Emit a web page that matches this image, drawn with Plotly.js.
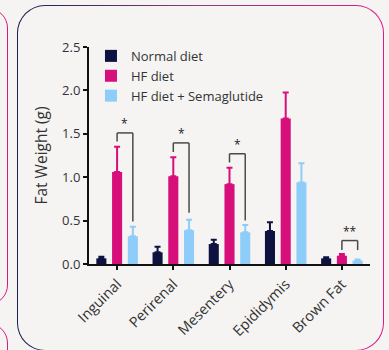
<!DOCTYPE html>
<html>
<head>
<meta charset="utf-8">
<script src="https://cdn.plot.ly/plotly-3.0.1.min.js"></script>
<style>
  html, body { margin:0; padding:0; background:#f5f4f2; width:389px; height:350px; overflow:hidden; }
  .panel { position:absolute; box-sizing:border-box; }
  #nb1 { left:-100px; top:8px; width:107.5px; height:297px; border:1.5px solid #d8197f; border-radius:20px; }
  #nb2 { left:-100px; top:323px; width:107.5px; height:120px; border:1.5px solid #d8197f; border-radius:20px; }
  #main { left:17px; top:5px; width:366.5px; height:346px; border-radius:28px; border:1.5px solid transparent;
          background: linear-gradient(#f5f4f2,#f5f4f2) padding-box, linear-gradient(to right, #1b1e4d, #8a3f78 50%, #de1a85) border-box; }
  #chart { position:absolute; left:0; top:0; width:389px; height:350px; }
</style>
</head>
<body>
<div class="panel" id="nb1"></div>
<div class="panel" id="nb2"></div>
<div class="panel" id="main"></div>
<div id="chart"></div>
<script>
// ---- data ----
const categories = ['Inguinal', 'Perirenal', 'Mesentery', 'Epididymis', 'Brown Fat'];
const seriesNames = ['Normal diet', 'HF diet', 'HF diet + Semaglutide'];
const normalDiet = [0.065, 0.135, 0.23, 0.38, 0.065];
const normalDietErr = [0.018, 0.065, 0.05, 0.10, 0.012];
const hfDiet = [1.06, 1.01, 0.92, 1.675, 0.095];
const hfDietErr = [0.29, 0.22, 0.19, 0.30, 0.02];
const hfSema = [0.32, 0.39, 0.365, 0.94, 0.04];
const hfSemaErr = [0.11, 0.12, 0.085, 0.22, 0.012];
// significance brackets (HF diet vs HF diet + Semaglutide)
const bracketCategories = ['Inguinal', 'Perirenal', 'Mesentery', 'Brown Fat'];
const bracketTop = [1.51, 1.395, 1.27, 0.27];
const bracketLeftEnd = [1.41, 1.29, 1.17, 0.16];
const bracketRightEnd = [0.49, 0.59, 0.50, 0.16];
const bracketLabels = ['*', '*', '*', '**'];
const yTickVals = [0, 0.5, 1.0, 1.5, 2.0, 2.5];

// ---- styles ----
const colors = ['#0e1240', '#d60f7b', '#8ecdfa'];
const FONT = 'Open Sans, sans-serif';
const BARGAP = 0.16;
const slot = (1 - BARGAP) / 3;
const xIdx = categories.map((c, i) => i);

const values = [normalDiet, hfDiet, hfSema];
const errs = [normalDietErr, hfDietErr, hfSemaErr];
const traces = values.map((v, k) => ({
  type: 'bar',
  name: seriesNames[k],
  x: xIdx,
  y: v,
  marker: { color: colors[k], line: { width: 0 } },
  error_y: { type: 'data', symmetric: false, array: errs[k], arrayminus: v.map(() => 0),
             color: colors[k], thickness: 2, width: 3 },
  hoverinfo: 'skip'
}));

const shapes = [];
const annotations = [];
bracketCategories.forEach((c, j) => {
  const i = categories.indexOf(c);
  const xl = i;            // HF diet bar centre
  const xr = i + slot;     // HF + Semaglutide bar centre
  const line = { color: '#4a4a4a', width: 1.5 };
  shapes.push({ type: 'line', xref: 'x', yref: 'y', x0: xl, x1: xl, y0: bracketLeftEnd[j], y1: bracketTop[j], line });
  shapes.push({ type: 'line', xref: 'x', yref: 'y', x0: xl, x1: xr, y0: bracketTop[j], y1: bracketTop[j], line });
  shapes.push({ type: 'line', xref: 'x', yref: 'y', x0: xr, x1: xr, y0: bracketTop[j], y1: bracketRightEnd[j], line });
  annotations.push({ xref: 'x', yref: 'y', x: (xl + xr) / 2, y: bracketTop[j], text: bracketLabels[j],
    showarrow: false, yanchor: 'bottom', xanchor: 'center', yshift: -1,
    font: { family: FONT, size: 12, color: '#222' } });
});

const layout = {
  width: 389, height: 350,
  margin: { l: 89, r: 19, t: 47, b: 86, pad: 0 },
  paper_bgcolor: 'rgba(0,0,0,0)',
  plot_bgcolor: 'rgba(0,0,0,0)',
  barmode: 'group',
  bargap: BARGAP,
  bargroupgap: 0.36,
  showlegend: true,
  legend: { x: 0.007, y: 1.028, xanchor: 'left', yanchor: 'top', bgcolor: 'rgba(0,0,0,0)',
            font: { family: FONT, size: 13, color: '#333' }, tracegroupgap: 0 },
  font: { family: FONT, color: '#333' },
  xaxis: {
    type: 'linear', range: [-0.5, 4.5], tickvals: xIdx, ticktext: categories,
    tickangle: -45, ticks: 'outside', ticklen: 4, tickwidth: 2, tickcolor: '#111',
    showline: true, linecolor: '#111', linewidth: 2, showgrid: false, zeroline: false,
    tickfont: { family: FONT, size: 14.5, color: '#333' }, fixedrange: true
  },
  yaxis: {
    range: [0, 2.5], tickvals: yTickVals, tickformat: '.1f',
    ticks: 'outside', ticklen: 4, tickwidth: 2, tickcolor: '#111',
    showline: true, linecolor: '#111', linewidth: 2, showgrid: false, zeroline: false,
    tickfont: { family: FONT, size: 13, color: '#333' },
    title: { text: 'Fat Weight (g)', standoff: 11, font: { family: FONT, size: 15.5, color: '#333' } },
    fixedrange: true
  },
  shapes, annotations
};

Plotly.newPlot('chart', traces, layout, { displayModeBar: false, staticPlot: true });
</script>
</body>
</html>
